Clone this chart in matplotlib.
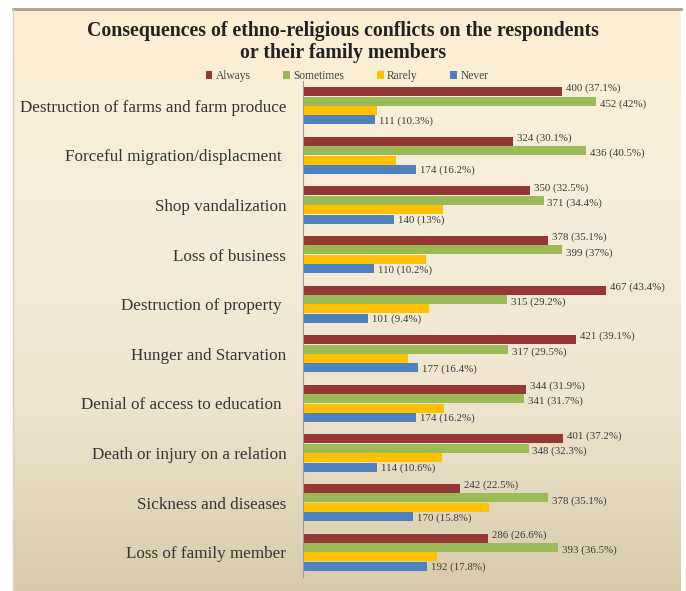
import matplotlib.pyplot as plt
import numpy as np
from matplotlib.colors import LinearSegmentedColormap

plt.rcParams['font.family'] = ['Liberation Serif', 'DejaVu Serif']

# Survey responses per consequence (counts and share of respondents)
categories = [
    "Destruction of farms and farm produce",
    "Forceful migration/displacment ",
    "Shop vandalization",
    "Loss of business",
    "Destruction of property ",
    "Hunger and Starvation",
    "Denial of access to education ",
    "Death or injury on a relation",
    "Sickness and diseases",
    "Loss of family member",
]
always = [400, 324, 350, 378, 467, 421, 344, 401, 242, 286]
always_pct = ["37.1%", "30.1%", "32.5%", "35.1%", "43.4%", "39.1%", "31.9%", "37.2%", "22.5%", "26.6%"]
sometimes = [452, 436, 371, 399, 315, 317, 341, 348, 378, 393]
sometimes_pct = ["42%", "40.5%", "34.4%", "37%", "29.2%", "29.5%", "31.7%", "32.3%", "35.1%", "36.5%"]
rarely = [114, 143, 216, 190, 194, 162, 218, 214, 287, 206]
never = [111, 174, 140, 110, 101, 177, 174, 114, 170, 192]
never_pct = ["10.3%", "16.2%", "13%", "10.2%", "9.4%", "16.4%", "16.2%", "10.6%", "15.8%", "17.8%"]

series = [
    ("Always", always, always_pct, "#953735"),
    ("Sometimes", sometimes, sometimes_pct, "#9BBB59"),
    ("Rarely", rarely, None, "#FFC000"),
    ("Never", never, never_pct, "#4F81BD"),
]
# nudge labels apart so neighbouring values don't collide
label_shift = [-0.06, 0.06, 0.0, 0.02]

fig = plt.figure(figsize=(6.86, 5.91), dpi=100)
W, H = 686, 591

# cream panel with a soft vertical gradient
bg = fig.add_axes([13 / W, 0, (681 - 13) / W, 1 - 9 / H], zorder=0)
grad = LinearSegmentedColormap.from_list(
    "panel", ["#FDEFD3", "#F6EEDB", "#EFE6D0", "#D8CBAB"])
bg.imshow(np.linspace(0, 1, 256).reshape(-1, 1), aspect="auto", cmap=grad,
          extent=[0, 1, 0, 1])
bg.plot([0, 1], [1, 1], color="#A89F90", lw=2, transform=bg.transAxes, clip_on=False)
bg.plot([0, 0], [0, 1], color="#D9D2C4", lw=1, transform=bg.transAxes, clip_on=False)
bg.set_axis_off()

ax = fig.add_axes([303 / W, 1 - 577 / H, (655 - 303) / W, (577 - 81) / H], zorder=1)
ax.patch.set_alpha(0)

y = np.arange(len(categories))
h = 0.19
offsets = [-1.5 * h, -0.5 * h, 0.5 * h, 1.5 * h]
for (name, vals, pcts, color), off, dy in zip(series, offsets, label_shift):
    ax.barh(y + off, vals, height=h * 0.95, color=color, label=name)
    if pcts is not None:
        for v, p, yy in zip(vals, pcts, y + off + dy):
            ax.text(v + 6, yy, f"{v} ({p})", fontsize=7.8, color="#3A3A3A",
                    va="center", ha="left")

ax.set_ylim(len(categories) - 0.5, -0.5)
ax.set_xlim(0, 543)
ax.set_yticks(y)
ax.set_yticklabels(categories, fontsize=12.3, color="#333333")
ax.tick_params(axis="y", length=0, pad=12)
ax.set_xticks([])
for s in ["top", "right", "bottom"]:
    ax.spines[s].set_visible(False)
ax.spines["left"].set_color("#9A9A9A")

fig.text(343 / W, 1 - 31 / H,
         "Consequences of ethno-religious conflicts on the respondents",
         ha="center", va="center", fontsize=14.3, fontweight="bold", color="#222222")
fig.text(343 / W, 1 - 53 / H, "or their family members",
         ha="center", va="center", fontsize=14.3, fontweight="bold", color="#222222")

fig.legend(loc="center", bbox_to_anchor=(347 / W, 1 - 76 / H), ncol=4,
           frameon=False, fontsize=8.3, handlelength=0.6, handleheight=0.6,
           handletextpad=0.3, columnspacing=2.8, labelcolor="#444444")

fig.savefig("out.png", dpi=100)
